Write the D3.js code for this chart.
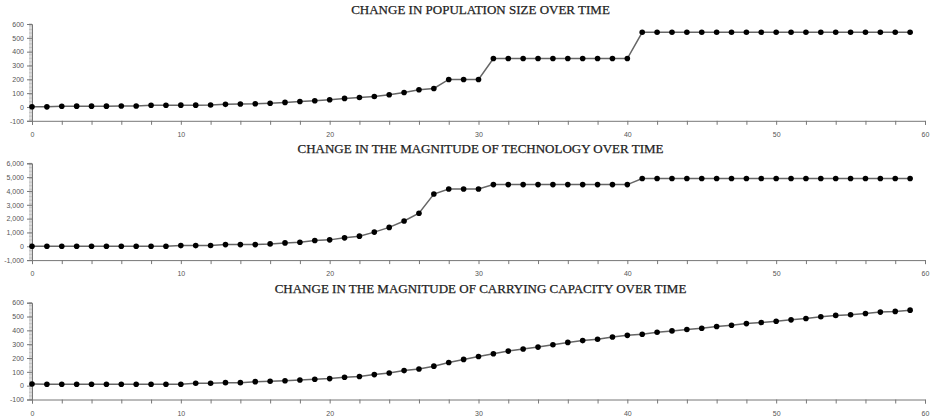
<!DOCTYPE html>
<html><head><meta charset="utf-8">
<script src="https://cdn.jsdelivr.net/npm/d3@7"></script>
<style>body{margin:0;background:#fff}svg{display:block}</style>
</head><body>
<svg id="chart" width="936" height="420"></svg>
<script>
const timeSteps = d3.range(0, 60);
const titles = [
  "CHANGE IN POPULATION SIZE OVER TIME",
  "CHANGE IN THE MAGNITUDE OF TECHNOLOGY OVER TIME",
  "CHANGE IN THE MAGNITUDE OF CARRYING CAPACITY OVER TIME"
];
const population = [2,1,5,6,6,6,7,7,12,12,13,13,14,19,22,23,27,33,40,45,
  52,62,69,76,88,105,124,134,199,199,199,350,350,350,350,350,350,350,350,350,
  350,540,540,540,540,540,540,540,540,540,540,540,540,540,540,540,540,540,540,540];
const technology = [0,0,0,0,0,0,0,0,0,0,49,49,60,122,122,122,171,244,293,415,
  463,609,731,1024,1366,1829,2390,3779,4145,4145,4145,4460,4460,4460,4460,4460,4460,4460,4460,4460,
  4460,4900,4900,4900,4900,4900,4900,4900,4900,4900,4900,4900,4900,4900,4900,4900,4900,4900,4900,4900];
const capacity = [12,10,10,10,10,10,10,10,10,10,10,17,17,22,22,29,32,36,41,46,
  51,61,66,80,92,109,121,141,168,190,211,231,250,265,279,296,313,326,336,352,
  364,372,386,396,406,415,428,437,449,457,466,476,486,498,508,513,522,532,537,546];
const yDomains = [[-100, 600], [-1000, 6000], [-100, 600]];
const yMajor = [100, 1000, 100];
const yMinor = [10, 100, 10];
const xTicksMajor = [0, 10, 20, 30, 40, 50, 60];

const series = [population, technology, capacity];
const svg = d3.select("#chart");
const left = 32, right = 925;
const tops = [24, 163.3, 302.7];
const plotH = 96.8;

const x = d3.scaleLinear().domain([0, 60]).range([left, right]);
const fmt = d3.format(",");

series.forEach((vals, i) => {
  const top = tops[i], bottom = top + plotH;
  const y = d3.scaleLinear().domain(yDomains[i]).range([bottom, top]);
  const g = svg.append("g");

  g.append("text").attr("x", (left + right) / 2 + 2).attr("y", top - 10)
    .attr("text-anchor", "middle")
    .attr("font-family", "Liberation Serif, Times New Roman, serif")
    .attr("font-size", 13).attr("fill", "#222")
    .attr("stroke", "#222").attr("stroke-width", 0.25)
    .text(titles[i]);

  const minorTicks = d3.range(yDomains[i][0], yDomains[i][1] + 0.001, yMinor[i]);
  g.append("g").selectAll("line").data(minorTicks).join("line")
    .attr("x1", left - 3).attr("x2", left)
    .attr("y1", d => y(d)).attr("y2", d => y(d))
    .attr("stroke", "#999").attr("stroke-width", 0.6);

  const yAxis = d3.axisLeft(y)
    .tickValues(d3.range(yDomains[i][0], yDomains[i][1] + 0.001, yMajor[i]))
    .tickSize(5).tickPadding(3)
    .tickFormat(d => fmt(d).replace("\u2212", "-"));
  const ya = g.append("g").attr("transform", `translate(${left},0)`).call(yAxis);
  ya.selectAll("path,line").attr("stroke", "#777");
  ya.selectAll("text").attr("font-family", "Liberation Sans, Arial, sans-serif")
    .attr("font-size", 7).attr("fill", "#555");

  const xAxis = d3.axisBottom(x).tickValues(d3.range(0, 61, 2))
    .tickSize(4).tickFormat(d => xTicksMajor.includes(d) ? d : "");
  const xa = g.append("g").attr("transform", `translate(0,${bottom})`).call(xAxis);
  xa.select(".domain").attr("stroke", "#777");
  xa.selectAll("line").attr("stroke", "#777");
  xa.selectAll("text").attr("font-family", "Liberation Sans, Arial, sans-serif")
    .attr("font-size", 7).attr("fill", "#555").attr("dy", "1.3em");

  const line = d3.line().x((d, j) => x(timeSteps[j])).y(d => y(d));
  g.append("path").datum(vals).attr("d", line)
    .attr("fill", "none").attr("stroke", "#666").attr("stroke-width", 1.5);
  g.append("g").selectAll("circle").data(vals).join("circle")
    .attr("cx", (d, j) => x(timeSteps[j])).attr("cy", d => y(d))
    .attr("r", 2.8).attr("fill", "#000");
});
</script>
</body></html>
